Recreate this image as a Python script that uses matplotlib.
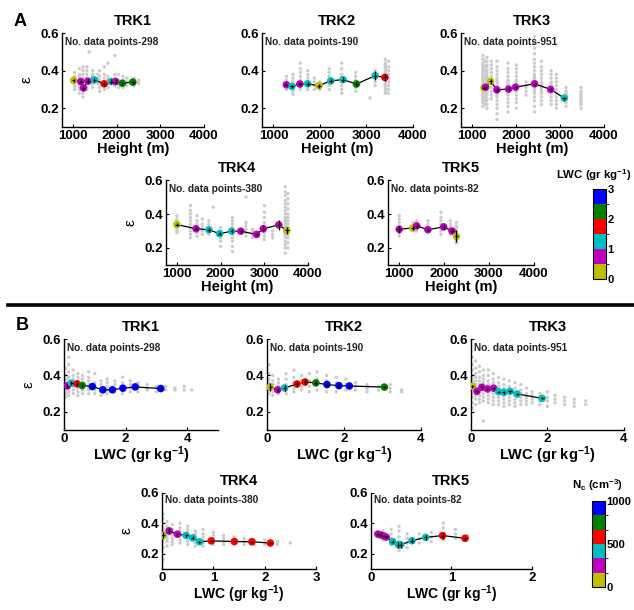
import numpy as np
import matplotlib
matplotlib.use("Agg")
import matplotlib.pyplot as plt
from matplotlib.colors import ListedColormap, BoundaryNorm
from matplotlib.colorbar import ColorbarBase

plt.rcParams['font.family'] = ['Liberation Sans', 'DejaVu Sans']
plt.rcParams['font.weight'] = 'bold'
plt.rcParams['mathtext.fontset'] = 'custom'
plt.rcParams['mathtext.rm'] = 'Liberation Sans:bold'
plt.rcParams['mathtext.it'] = 'Liberation Sans:bold'
plt.rcParams['mathtext.default'] = 'rm'

trk_names = ['TRK1', 'TRK2', 'TRK3', 'TRK4', 'TRK5']
n_points = [298, 190, 951, 380, 82]
class_colors = ['#bfbf00', '#bf00bf', '#00bfbf', '#ff0000', '#008000', '#0000ff']
lwc_bounds = [0, 0.5, 1.0, 1.5, 2.0, 2.5, 3.0]
nc_bounds = [0, 167, 333, 500, 667, 833, 1000]

# ---- panel A : epsilon vs height, coloured by LWC ----
h1_x = [1015, 1180, 1240, 1345, 1490, 1715, 1870, 1975, 2130, 2370]
h1_eps = [0.348, 0.342, 0.308, 0.344, 0.351, 0.330, 0.342, 0.342, 0.333, 0.339]
h1_lwc = [0.25, 0.75, 0.75, 0.75, 1.25, 1.75, 1.25, 0.75, 2.25, 2.25]
h1_err = [0.01, 0.01, 0.012, 0.01, 0.012, 0.01, 0.012, 0.012, 0.008, 0.008]

h2_x = [1277, 1394, 1569, 1737, 1978, 2234, 2496, 2788, 3190, 3400]
h2_eps = [0.325, 0.316, 0.329, 0.330, 0.320, 0.346, 0.352, 0.329, 0.373, 0.364]
h2_lwc = [0.75, 1.25, 0.75, 1.25, 0.25, 1.25, 1.25, 2.25, 1.25, 1.75]
h2_err = [0.008, 0.008, 0.012, 0.01, 0.01, 0.012, 0.015, 0.01, 0.025, 0.02]

h3_x = [1273, 1311, 1424, 1568, 1833, 1992, 2424, 2788, 3098]
h3_eps = [0.309, 0.312, 0.343, 0.298, 0.302, 0.312, 0.330, 0.300, 0.254]
h3_lwc = [0.25, 0.75, 0.25, 0.75, 0.75, 0.75, 0.75, 0.75, 1.25]
h3_err = [0.008, 0.008, 0.012, 0.01, 0.01, 0.008, 0.01, 0.01, 0.008]

h4_x = [1000, 1438, 1731, 1977, 2254, 2462, 2823, 2977, 3331, 3515]
h4_eps = [0.338, 0.313, 0.307, 0.284, 0.299, 0.299, 0.280, 0.313, 0.336, 0.303]
h4_lwc = [0.25, 0.75, 1.25, 1.25, 1.25, 0.75, 0.75, 0.75, 0.75, 0.25]
h4_err = [0.008, 0.01, 0.01, 0.01, 0.01, 0.012, 0.01, 0.015, 0.03, 0.02]

h5_x = [1000, 1300, 1390, 1638, 1990, 2178, 2275]
h5_eps = [0.310, 0.318, 0.330, 0.308, 0.324, 0.300, 0.268]
h5_lwc = [0.75, 0.25, 0.75, 0.75, 0.75, 0.75, 0.25]
h5_err = [0.02, 0.01, 0.01, 0.01, 0.015, 0.01, 0.035]

# grey raw points, (height, [eps...]) columns
hg1 = [(1040, [0.30, 0.31, 0.32, 0.33, 0.34, 0.35, 0.36, 0.37, 0.39]),
       (1150, [0.28, 0.30, 0.31, 0.32, 0.33, 0.34, 0.35, 0.36, 0.37, 0.38, 0.41]),
       (1230, [0.26, 0.28, 0.30, 0.32, 0.34, 0.35, 0.36, 0.38, 0.40, 0.42]),
       (1320, [0.30, 0.31, 0.33, 0.35, 0.36, 0.38, 0.40, 0.42]),
       (1370, [0.50]),
       (1450, [0.31, 0.33, 0.34, 0.36, 0.37, 0.38, 0.40]),
       (1570, [0.33, 0.34, 0.36, 0.38]),
       (1610, [0.29, 0.31, 0.33, 0.35, 0.37, 0.40]),
       (1720, [0.30, 0.32, 0.34, 0.36, 0.38, 0.42]),
       (1800, [0.31, 0.33, 0.35, 0.37, 0.44]),
       (1960, [0.32, 0.34, 0.36, 0.38, 0.48]),
       (2040, [0.31, 0.33, 0.35, 0.38]),
       (2150, [0.31, 0.33, 0.35, 0.37]),
       (2230, [0.32, 0.34, 0.36]),
       (2400, [0.32, 0.33, 0.34, 0.35, 0.36]),
       (2500, [0.33, 0.34, 0.35])]
hg2 = [(1280, [0.30, 0.31, 0.32, 0.33, 0.34, 0.35, 0.37]),
       (1420, [0.275, 0.29, 0.30, 0.31, 0.33, 0.34, 0.36, 0.38]),
       (1580, [0.30, 0.31, 0.33, 0.35, 0.37, 0.39, 0.41, 0.44]),
       (1740, [0.30, 0.32, 0.33, 0.34, 0.36, 0.38, 0.40]),
       (1880, [0.30, 0.32, 0.34, 0.36]),
       (2000, [0.30, 0.31, 0.33, 0.34]),
       (2200, [0.30, 0.32, 0.33, 0.35, 0.37, 0.39, 0.41]),
       (2470, [0.28, 0.30, 0.32, 0.34, 0.36, 0.38, 0.41, 0.44]),
       (2770, [0.29, 0.31, 0.33, 0.35, 0.37, 0.39]),
       (3080, [0.255]),
       (3190, [0.32, 0.34, 0.36, 0.38, 0.40]),
       (3410, [0.28, 0.29, 0.30, 0.31, 0.32, 0.33, 0.34, 0.35, 0.36, 0.37, 0.38, 0.39,
               0.40, 0.41, 0.42, 0.43, 0.44, 0.46]),
       (3480, [0.28, 0.30, 0.32, 0.34, 0.36, 0.38, 0.40, 0.42, 0.45])]
hg3 = [(1250, [0.21, 0.23, 0.24, 0.25, 0.26, 0.27, 0.28, 0.29, 0.30, 0.31, 0.32, 0.33, 0.34,
               0.35, 0.36, 0.37, 0.38, 0.39, 0.40, 0.41, 0.42, 0.43, 0.44, 0.46, 0.48]),
       (1300, [0.22, 0.24, 0.26, 0.28, 0.30, 0.32, 0.34, 0.36, 0.38, 0.40, 0.42, 0.45]),
       (1340, [0.20, 0.22, 0.24, 0.25, 0.27, 0.28, 0.29, 0.30, 0.31, 0.32, 0.33, 0.34, 0.35,
               0.36, 0.37, 0.38, 0.39, 0.40, 0.42, 0.43, 0.45, 0.47]),
       (1440, [0.25, 0.27, 0.29, 0.31, 0.33, 0.35, 0.37, 0.39, 0.41, 0.43, 0.45]),
       (1570, [0.14, 0.17, 0.20, 0.22, 0.24, 0.26, 0.27, 0.28, 0.29, 0.30, 0.31, 0.32, 0.33,
               0.34, 0.35, 0.36, 0.38, 0.40, 0.42, 0.45]),
       (1820, [0.18, 0.21, 0.23, 0.25, 0.27, 0.28, 0.29, 0.30, 0.31, 0.32, 0.33, 0.34, 0.35,
               0.37, 0.39, 0.41, 0.44]),
       (2010, [0.20, 0.23, 0.25, 0.27, 0.29, 0.30, 0.31, 0.32, 0.33, 0.34, 0.35, 0.37, 0.39,
               0.41, 0.43]),
       (2230, [0.27, 0.29, 0.31, 0.32, 0.34]),
       (2420, [0.18, 0.21, 0.24, 0.26, 0.28, 0.29, 0.30, 0.31, 0.32, 0.33, 0.34, 0.35, 0.36,
               0.37, 0.38, 0.40, 0.42, 0.44, 0.46, 0.49, 0.52, 0.55, 0.58]),
       (2580, [0.22, 0.24, 0.26, 0.28, 0.29, 0.30, 0.31, 0.32, 0.33, 0.34, 0.36, 0.38, 0.40,
               0.42, 0.45]),
       (2800, [0.22, 0.24, 0.26, 0.28, 0.29, 0.30, 0.31, 0.32, 0.33, 0.34, 0.36, 0.38, 0.40]),
       (2920, [0.20, 0.22, 0.24, 0.26, 0.28, 0.30, 0.32, 0.34, 0.36, 0.38]),
       (3140, [0.21, 0.23, 0.25, 0.26, 0.27, 0.28, 0.29, 0.31]),
       (3480, [0.20, 0.22, 0.23, 0.24, 0.25, 0.26, 0.27, 0.28, 0.29, 0.31])]
hg4 = [(1000, [0.29, 0.30, 0.31, 0.32, 0.33, 0.34, 0.35, 0.36, 0.37, 0.39]),
       (1310, [0.26, 0.28, 0.30, 0.32, 0.34, 0.36, 0.38, 0.40, 0.42, 0.45]),
       (1460, [0.27, 0.29, 0.30, 0.32, 0.34, 0.36, 0.39]),
       (1580, [0.28, 0.30, 0.32, 0.34, 0.37]),
       (1730, [0.28, 0.30, 0.32, 0.34, 0.36]),
       (1830, [0.44]),
       (2000, [0.21, 0.24, 0.26, 0.27, 0.28, 0.29, 0.30, 0.32]),
       (2270, [0.18, 0.21, 0.24, 0.26, 0.28, 0.30, 0.32, 0.34, 0.36, 0.38]),
       (2580, [0.27, 0.29, 0.31, 0.33, 0.35, 0.50]),
       (2730, [0.26, 0.28, 0.30, 0.31]),
       (3000, [0.25, 0.27, 0.29, 0.31, 0.33, 0.35, 0.38, 0.41, 0.45]),
       (3190, [0.26, 0.28, 0.30]),
       (3480, [0.17, 0.20, 0.22, 0.24, 0.26, 0.27, 0.28, 0.29, 0.30, 0.31, 0.32, 0.33, 0.34,
               0.35, 0.36, 0.37, 0.38, 0.40, 0.42, 0.44, 0.46, 0.48, 0.51, 0.53, 0.56]),
       (3540, [0.20, 0.23, 0.26, 0.28, 0.30, 0.32, 0.34, 0.36, 0.38, 0.40, 0.43, 0.46, 0.49, 0.52])]
hg5 = [(1000, [0.27, 0.29, 0.30, 0.31, 0.32, 0.33, 0.35, 0.37, 0.39]),
       (1315, [0.30, 0.31, 0.32, 0.33, 0.35]),
       (1390, [0.30, 0.32, 0.34, 0.36]),
       (1640, [0.29, 0.30, 0.32, 0.34, 0.36]),
       (1930, [0.28, 0.30, 0.32, 0.34, 0.36, 0.38, 0.41]),
       (2140, [0.28, 0.30, 0.32, 0.34, 0.36]),
       (2275, [0.23, 0.24, 0.25, 0.26, 0.27, 0.28, 0.29, 0.30, 0.31, 0.32, 0.33, 0.35])]

# ---- panel B : epsilon vs LWC, coloured by Nc ----
l1_x = [0.11, 0.24, 0.42, 0.59, 0.92, 1.26, 1.57, 1.91, 2.31, 3.14]
l1_eps = [0.343, 0.358, 0.354, 0.345, 0.339, 0.321, 0.321, 0.330, 0.337, 0.328]
l1_nc = [250, 420, 580, 750, 920, 920, 920, 920, 920, 920]
l1_err = [0.01, 0.012, 0.012, 0.008, 0.006, 0.006, 0.006, 0.006, 0.006, 0.006]

l2_x = [0.086, 0.28, 0.46, 0.78, 0.99, 1.27, 1.56, 1.87, 2.14, 3.05]
l2_eps = [0.336, 0.321, 0.331, 0.353, 0.364, 0.359, 0.350, 0.344, 0.342, 0.336]
l2_nc = [80, 250, 420, 580, 580, 750, 920, 920, 920, 750]
l2_err = [0.02, 0.01, 0.015, 0.015, 0.015, 0.012, 0.008, 0.008, 0.008, 0.006]

l3_x = [0.035, 0.155, 0.285, 0.43, 0.59, 0.72, 0.86, 1.02, 1.21, 1.86]
l3_eps = [0.341, 0.313, 0.335, 0.326, 0.330, 0.311, 0.307, 0.313, 0.298, 0.274]
l3_nc = [80, 250, 250, 250, 250, 420, 420, 420, 420, 420]
l3_err = [0.008, 0.008, 0.008, 0.006, 0.008, 0.006, 0.008, 0.008, 0.006, 0.006]

l4_x = [0.02, 0.14, 0.30, 0.47, 0.60, 0.73, 0.96, 1.41, 1.75, 2.11]
l4_eps = [0.320, 0.350, 0.328, 0.320, 0.304, 0.278, 0.284, 0.280, 0.278, 0.270]
l4_nc = [80, 250, 250, 420, 420, 420, 580, 580, 580, 580]
l4_err = [0.02, 0.02, 0.01, 0.012, 0.01, 0.008, 0.008, 0.006, 0.006, 0.006]

l5_x = [0.087, 0.124, 0.157, 0.19, 0.27, 0.34, 0.37, 0.51, 0.68, 0.89, 1.17]
l5_eps = [0.329, 0.323, 0.317, 0.309, 0.279, 0.259, 0.259, 0.285, 0.307, 0.319, 0.301]
l5_nc = [250, 250, 250, 250, 420, 420, 420, 420, 420, 580, 580]
l5_err = [0.01, 0.01, 0.008, 0.008, 0.01, 0.02, 0.02, 0.015, 0.015, 0.02, 0.008]

lg1 = [(0.05, [0.28, 0.30, 0.32, 0.33, 0.34, 0.35, 0.36, 0.38, 0.40, 0.44]),
       (0.15, [0.29, 0.31, 0.33, 0.35, 0.37, 0.39, 0.42, 0.46, 0.50]),
       (0.30, [0.30, 0.32, 0.34, 0.36, 0.38, 0.40, 0.43]),
       (0.45, [0.29, 0.31, 0.33, 0.35, 0.37, 0.39, 0.41]),
       (0.60, [0.30, 0.32, 0.34, 0.36, 0.38, 0.40]),
       (0.80, [0.30, 0.32, 0.33, 0.35, 0.37, 0.39, 0.42]),
       (1.00, [0.30, 0.32, 0.34, 0.36, 0.41]),
       (1.20, [0.29, 0.31, 0.33, 0.35, 0.37]),
       (1.40, [0.30, 0.32, 0.34, 0.36, 0.38]),
       (1.65, [0.31, 0.33, 0.35, 0.37]),
       (1.90, [0.30, 0.32, 0.34, 0.36, 0.39]),
       (2.15, [0.31, 0.33, 0.35, 0.37]),
       (2.40, [0.31, 0.33, 0.35, 0.36]),
       (2.70, [0.32, 0.33, 0.35]),
       (3.00, [0.31, 0.33, 0.34]),
       (3.30, [0.32, 0.34]),
       (3.60, [0.32, 0.33]),
       (3.90, [0.32, 0.34]),
       (4.15, [0.32])]
lg2 = [(0.05, [0.30, 0.32, 0.34, 0.36, 0.38, 0.41, 0.46]),
       (0.15, [0.29, 0.31, 0.33, 0.35, 0.37, 0.40]),
       (0.30, [0.30, 0.32, 0.34, 0.36, 0.38]),
       (0.50, [0.30, 0.32, 0.35, 0.38, 0.41]),
       (0.70, [0.31, 0.33, 0.36, 0.39, 0.43]),
       (0.90, [0.32, 0.34, 0.37, 0.40]),
       (1.10, [0.31, 0.34, 0.37, 0.41]),
       (1.30, [0.32, 0.35, 0.38, 0.42]),
       (1.55, [0.31, 0.34, 0.37, 0.40]),
       (1.80, [0.31, 0.34, 0.36, 0.39]),
       (2.05, [0.32, 0.35, 0.38]),
       (2.30, [0.32, 0.34, 0.36]),
       (2.60, [0.31, 0.33, 0.35]),
       (2.90, [0.32, 0.34]),
       (3.20, [0.31, 0.33, 0.35]),
       (3.50, [0.31, 0.32])]
lg3 = [(0.03, [0.22, 0.25, 0.28, 0.30, 0.32, 0.34, 0.36, 0.38, 0.40, 0.43, 0.46, 0.50]),
       (0.12, [0.24, 0.27, 0.29, 0.31, 0.33, 0.35, 0.37, 0.39, 0.41, 0.44, 0.48]),
       (0.22, [0.25, 0.27, 0.29, 0.31, 0.33, 0.35, 0.37, 0.39, 0.42, 0.45]),
       (0.32, [0.15, 0.26, 0.28, 0.30, 0.32, 0.34, 0.36, 0.38, 0.40, 0.43]),
       (0.45, [0.25, 0.27, 0.29, 0.31, 0.33, 0.35, 0.37, 0.40, 0.43]),
       (0.58, [0.24, 0.26, 0.28, 0.30, 0.32, 0.34, 0.36, 0.38, 0.41]),
       (0.72, [0.24, 0.26, 0.28, 0.30, 0.32, 0.34, 0.36, 0.39]),
       (0.86, [0.23, 0.25, 0.27, 0.29, 0.31, 0.33, 0.35, 0.38]),
       (1.00, [0.24, 0.26, 0.28, 0.30, 0.32, 0.34, 0.37]),
       (1.15, [0.23, 0.25, 0.27, 0.29, 0.31, 0.33, 0.36]),
       (1.30, [0.24, 0.26, 0.28, 0.30, 0.32, 0.35]),
       (1.45, [0.24, 0.26, 0.28, 0.30, 0.33]),
       (1.60, [0.25, 0.27, 0.29, 0.31]),
       (1.80, [0.24, 0.26, 0.28, 0.30]),
       (2.00, [0.23, 0.26, 0.28, 0.31]),
       (2.20, [0.25, 0.27, 0.29]),
       (2.45, [0.24, 0.26, 0.28]),
       (2.70, [0.23, 0.25, 0.27]),
       (3.00, [0.24, 0.26])]
lg4 = [(0.02, [0.16, 0.24, 0.27, 0.29, 0.31, 0.33, 0.35, 0.37, 0.40, 0.43, 0.46]),
       (0.10, [0.25, 0.28, 0.30, 0.32, 0.34, 0.36, 0.38, 0.41]),
       (0.20, [0.26, 0.28, 0.30, 0.32, 0.34, 0.36, 0.39]),
       (0.35, [0.27, 0.29, 0.31, 0.33, 0.35, 0.37, 0.40]),
       (0.50, [0.26, 0.28, 0.30, 0.32, 0.34, 0.36, 0.38]),
       (0.65, [0.25, 0.27, 0.29, 0.31, 0.33, 0.35]),
       (0.80, [0.25, 0.27, 0.29, 0.31, 0.33, 0.36]),
       (1.00, [0.26, 0.28, 0.30, 0.32, 0.34]),
       (1.20, [0.26, 0.28, 0.30, 0.32]),
       (1.40, [0.26, 0.27, 0.29, 0.31]),
       (1.60, [0.26, 0.28, 0.30]),
       (1.80, [0.26, 0.28, 0.29]),
       (2.00, [0.26, 0.27, 0.29]),
       (2.25, [0.26, 0.28]),
       (2.50, [0.27])]
lg5 = [(0.08, [0.31, 0.32, 0.33, 0.34]),
       (0.15, [0.29, 0.31, 0.33, 0.35]),
       (0.25, [0.26, 0.28, 0.30, 0.33, 0.36]),
       (0.35, [0.22, 0.24, 0.26, 0.28, 0.31, 0.35, 0.38]),
       (0.45, [0.24, 0.27, 0.30, 0.33]),
       (0.60, [0.27, 0.30, 0.33]),
       (0.75, [0.28, 0.31, 0.34]),
       (0.90, [0.29, 0.33, 0.37, 0.40]),
       (1.05, [0.30, 0.33, 0.36]),
       (1.20, [0.30, 0.32])]

cmap = ListedColormap(class_colors)
lwc_norm = BoundaryNorm(lwc_bounds, cmap.N)
nc_norm = BoundaryNorm(nc_bounds, cmap.N)


def draw_panel(ax, grey, x, eps, cval, err, xerr, norm, xlim, xticks, xlabel, title, npts,
               ylab, xlsize=10.5):
    gx = [c[0] for c in grey for _ in c[1]]
    gy = [v for c in grey for v in c[1]]
    ax.scatter(gx, gy, s=6, color='#cccccc', edgecolors='none', zorder=1)
    ax.plot(x, eps, color='k', lw=0.9, zorder=2)
    ax.scatter(x, eps, c=cval, cmap=cmap, norm=norm, s=30, edgecolors='none', zorder=3)
    ax.errorbar(x, eps, yerr=err, xerr=xerr, fmt='none', ecolor='k',
                elinewidth=0.9, capsize=0, zorder=4)
    ax.set_xlim(xlim)
    ax.set_ylim(0.1, 0.6)
    ax.set_xticks(xticks)
    ax.set_yticks([0.2, 0.4, 0.6])
    ax.set_yticklabels(['0.2', '0.4', '0.6'])
    for s in ['top', 'right']:
        ax.spines[s].set_visible(False)
    for s in ['left', 'bottom']:
        ax.spines[s].set_linewidth(1.0)
    ax.tick_params(direction='in', length=2, width=0.8, labelsize=9.5, pad=2)
    ax.set_xlabel(xlabel, fontsize=xlsize, fontweight='bold', labelpad=0)
    ax.set_title(title, fontsize=10.5, fontweight='bold', pad=6)
    ax.text(0.02, 0.9, 'No. data points-%d' % npts, transform=ax.transAxes,
            fontsize=7.3, fontweight='bold', color='#222222', va='center')
    if ylab:
        ax.set_ylabel('ε', fontsize=11, labelpad=5)


fig = plt.figure(figsize=(6.34, 6.10), dpi=100)

a_pos = [[0.0978, 0.7918, 0.224, 0.154], [0.413, 0.7918, 0.238, 0.154],
         [0.727, 0.7918, 0.2256, 0.154], [0.2618, 0.5656, 0.224, 0.1393],
         [0.612, 0.5656, 0.230, 0.1393]]
b_pos = [[0.101, 0.2951, 0.243, 0.149], [0.421, 0.2951, 0.243, 0.149],
         [0.743, 0.2951, 0.241, 0.149], [0.2555, 0.0675, 0.243, 0.1245],
         [0.585, 0.0675, 0.254, 0.1245]]

a_data = [(hg1, h1_x, h1_eps, h1_lwc, h1_err), (hg2, h2_x, h2_eps, h2_lwc, h2_err),
          (hg3, h3_x, h3_eps, h3_lwc, h3_err), (hg4, h4_x, h4_eps, h4_lwc, h4_err),
          (hg5, h5_x, h5_eps, h5_lwc, h5_err)]
b_data = [(lg1, l1_x, l1_eps, l1_nc, l1_err), (lg2, l2_x, l2_eps, l2_nc, l2_err),
          (lg3, l3_x, l3_eps, l3_nc, l3_err), (lg4, l4_x, l4_eps, l4_nc, l4_err),
          (lg5, l5_x, l5_eps, l5_nc, l5_err)]
b_xlim = [(0, 5), (0, 4), (0, 4), (0, 3), (0, 2)]
b_xticks = [[0, 2, 4], [0, 2, 4], [0, 2, 4], [0, 1, 2, 3], [0, 1, 2]]
b_xerr = [0.04, 0.04, 0.04, 0.03, 0.02]

for i in range(5):
    ax = fig.add_axes(a_pos[i])
    g, x, e, c, er = a_data[i]
    draw_panel(ax, g, x, e, c, er, 40, lwc_norm, (750, 4000), [1000, 2000, 3000, 4000],
               'Height (m)', trk_names[i], n_points[i], i in (0, 3))

for i in range(5):
    ax = fig.add_axes(b_pos[i])
    g, x, e, c, er = b_data[i]
    draw_panel(ax, g, x, e, c, er, b_xerr[i], nc_norm, b_xlim[i], b_xticks[i],
               'LWC (gr kg$^{-1}$)', trk_names[i], n_points[i], i in (0, 3),
               xlsize=10 if i >= 3 else 10.5)

# colour bars
cax_a = fig.add_axes([593 / 634, 1 - 279 / 610, 13 / 634, 90 / 610])
cb_a = ColorbarBase(cax_a, cmap=cmap, norm=lwc_norm, boundaries=lwc_bounds, ticks=[0, 1, 2, 3])
cb_a.outline.set_linewidth(0.8)
cax_a.tick_params(length=0, labelsize=8, pad=1)
fig.text(594 / 634, 1 - 175 / 610, 'LWC (gr kg$^{-1}$)', ha='center', va='center',
         fontsize=8.2, fontweight='bold')

cax_b = fig.add_axes([592 / 634, 1 - 587 / 610, 13 / 634, 86 / 610])
cb_b = ColorbarBase(cax_b, cmap=cmap, norm=nc_norm, boundaries=nc_bounds, ticks=[0, 500, 1000])
cb_b.outline.set_linewidth(0.8)
cax_b.tick_params(length=0, labelsize=8, pad=1)
fig.text(598 / 634, 1 - 485 / 610, 'N$_c$ (cm$^{-3}$)', ha='center', va='center',
         fontsize=8.2, fontweight='bold')

# panel letters and separator
fig.text(20 / 634, 1 - 22 / 610, 'A', fontsize=13, fontweight='bold', ha='center', va='center')
fig.text(22 / 634, 1 - 325 / 610, 'B', fontsize=13, fontweight='bold', ha='center', va='center')
fig.add_artist(plt.Line2D([8 / 634, 1.0], [1 - 305 / 610, 1 - 305 / 610],
                          transform=fig.transFigure, color='k', lw=2.6))

fig.savefig('out.png', dpi=100)
